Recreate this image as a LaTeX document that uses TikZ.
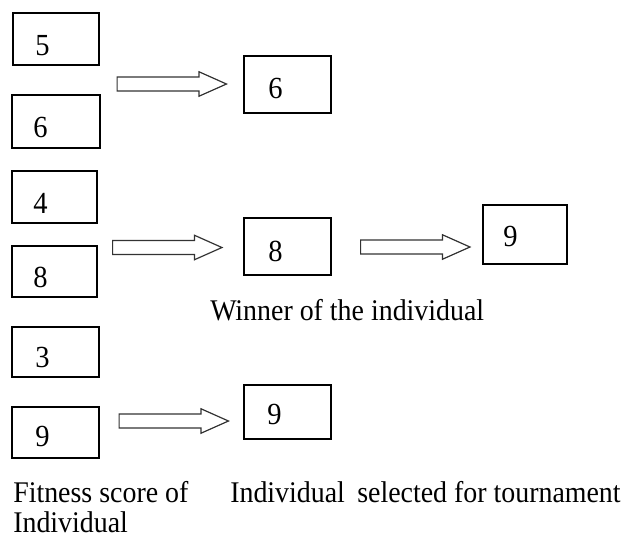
\documentclass[tikz,border=0pt]{standalone}
\usepackage{fontspec}
\setmainfont[FakeStretch=0.93]{Liberation Serif}
\usetikzlibrary{shapes.arrows}
\tikzset{
  box/.style={draw=black, line width=1.1pt, rectangle, inner sep=0pt},
  digit/.style={anchor=base west, inner sep=0pt, font=\fontsize{23}{27}\selectfont},
  caption/.style={anchor=base west, inner sep=0pt, font=\fontsize{22.5}{27}\selectfont},
  blockarrow/.style={draw=black!80, line width=0.9pt, single arrow, inner sep=0pt,
    text height=9.5pt, text depth=0pt, text width=0pt,
    single arrow head extend=4pt, single arrow tip angle=48,
    minimum height=82pt}
}
\begin{document}
\begin{tikzpicture}[x=0.75pt,y=-0.75pt]
\useasboundingbox (0,0) rectangle (624,540);
% left column
\node[box, minimum width=64.5pt, minimum height=39pt] (b5) at (56,39) {};
\node[box, minimum width=66pt, minimum height=39.75pt] (b6l) at (56,121.5) {};
\node[box, minimum width=63.75pt, minimum height=39pt] (b4) at (54.5,197) {};
\node[box, minimum width=63.75pt, minimum height=38.25pt] (b8l) at (54.5,271.5) {};
\node[box, minimum width=65.25pt, minimum height=37.5pt] (b3) at (55.5,352) {};
\node[box, minimum width=65.25pt, minimum height=38.25pt] (b9l) at (55.5,432.5) {};
% middle column
\node[box, minimum width=65.25pt, minimum height=42.75pt] (b6m) at (287.5,84.5) {};
\node[box, minimum width=65.25pt, minimum height=42.75pt] (b8m) at (287.5,246.5) {};
\node[box, minimum width=65.25pt, minimum height=40.5pt] (b9m) at (287.5,412) {};
% right
\node[box, minimum width=63pt, minimum height=44.25pt] (b9r) at (525,234.5) {};
% digits
\node[digit] (t5) at (35,55) {5};
\node[digit] (t6l) at (33,137) {6};
\node[digit] (t4) at (33,213) {4};
\node[digit] (t8l) at (33,287) {8};
\node[digit] (t3) at (35,367) {3};
\node[digit] (t9l) at (35,446) {9};
\node[digit] (t6m) at (268,98) {6};
\node[digit] (t8m) at (268,261) {8};
\node[digit] (t9m) at (267,424) {9};
\node[digit] (t9r) at (503,246) {9};
% arrows
\node[blockarrow] (a1) at (164,84) {};
\node[blockarrow] (a2) at (159.5,247.5) {};
\node[blockarrow] (a3) at (407.5,247) {};
\node[blockarrow] (a4) at (166,421) {};
% captions
\node[caption] (cw) at (210,320) {Winner of the individual};
\node[caption] (cf1) at (13,502) {Fitness score of};
\node[caption] (cf2) at (13,532) {Individual};
\node[caption] (cs) at (230,502) {Individual\hspace{4pt} selected for tournament};
\end{tikzpicture}
\end{document}
